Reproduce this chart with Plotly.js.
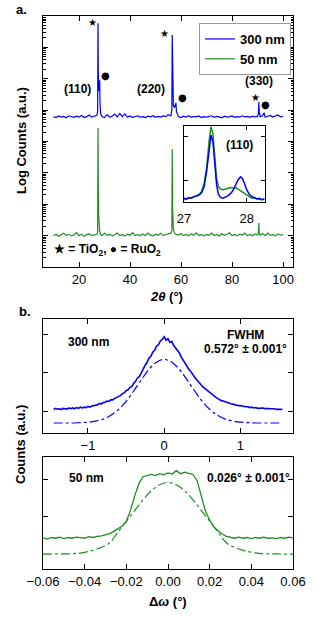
<!DOCTYPE html>
<html><head><meta charset="utf-8">
<script src="https://cdn.plot.ly/plotly-3.0.1.min.js"></script>
<style>html,body{margin:0;padding:0;background:#fff}#chart{width:317px;height:617px}</style>
</head><body><div id="chart"></div>
<script>
// ---------- Panel a: XRD 2theta scans (counts, log scale) ----------
const twoTheta300 = [10,11,12,13,14,15,16,17,18,19,20,21,22,23,24,25,26,27,27.3,27.45,27.55,27.7,28.0,28.1,28.25,28.5,29,30,31,32,33,34,35,36,37,38,39,40,41,42,43,44,45,46,47,48,49,50,51,52,53,54,55,56,56.4,56.55,56.7,57.0,57.4,57.8,58.0,58.2,58.6,59,60,61,62,63,64,65,66,67,68,69,70,71,72,73,74,75,76,77,78,79,80,81,82,83,84,85,86,87,88,89,90,90.35,90.5,90.65,91,92,92.4,92.6,92.8,93,94,95,96,97,98,99,100];
const counts300 = [62000,58000,65000,60000,63000,57000,66000,61000,59000,64000,60000,67000,58000,62000,70000,60000,63000,68000,90000,5.9e7,2e6,4e5,6e5,9e5,1.5e5,75000,62000,58000,72000,60000,64000,75000,60000,78000,62000,76000,60000,65000,59000,63000,66000,60000,62000,58000,64000,61000,66000,59000,63000,60000,65000,62000,72000,66000,1e5,2.5e7,8e5,1.4e5,1.2e5,1.7e5,1.7e5,90000,70000,62000,58000,64000,60000,66000,59000,63000,61000,65000,58000,62000,60000,64000,66000,59000,63000,61000,57000,64000,60000,62000,65000,59000,62000,60000,66000,61000,63000,59000,64000,61000,63000,80000,1.8e5,90000,62000,66000,78000,80000,68000,60000,64000,68000,60000,63000,70000,61000,64000];
const twoTheta50 = [10,11,12,13,14,15,16,17,18,19,20,21,22,23,24,25,26,27,27.3,27.45,27.55,27.7,27.85,28.1,28.5,29,30,31,32,33,34,35,36,37,38,39,40,41,42,43,44,45,46,47,48,49,50,51,52,53,54,55,56,56.4,56.55,56.7,57,57.5,58,59,60,61,62,63,64,65,66,67,68,69,70,71,72,73,74,75,76,77,78,79,80,81,82,83,84,85,86,87,88,89,90,90.35,90.5,90.65,91,92,93,94,95,96,97,98,99,100];
const counts50 = [10,11,9.5,10.5,12,10,11,9.8,10.5,12.5,10,11,9.6,10.8,11.5,10,10.6,11,13,27000,600,46,28,14,11,10,12,10.2,11,9.8,10.6,12,10,10.8,9.7,11.2,10.3,12.4,10,10.7,9.9,11.3,10.1,12,10.4,9.8,11.1,10.2,11.8,10,10.9,11.5,12,14,5800,70,16,12,11,10.4,11.6,10,10.9,9.8,11.4,10.2,12.2,10,10.8,9.9,11,10.3,12,10.1,10.9,9.8,11.5,10.2,11,12.3,10,10.7,9.9,11.2,10.4,12,10,10.9,9.8,11.3,10.5,12,25,12,10.4,11.6,10,12.1,10.2,10.9,9.9,11.4,10.3,11];

// ---------- Inset: (110) peak, normalised ----------
const insetTwoTheta = [27.00,27.04,27.08,27.12,27.16,27.20,27.24,27.28,27.32,27.36,27.40,27.43,27.46,27.49,27.52,27.55,27.58,27.62,27.66,27.70,27.74,27.78,27.82,27.86,27.90,27.93,27.96,28.00,28.04,28.08,28.12,28.16,28.20,28.24,28.28];
const inset300 = [0.05,0.04,0.06,0.05,0.07,0.08,0.09,0.12,0.20,0.40,0.72,0.88,0.80,0.50,0.22,0.10,0.06,0.05,0.06,0.08,0.11,0.15,0.22,0.29,0.33,0.31,0.25,0.16,0.10,0.07,0.06,0.04,0.05,0.03,0.04];
const inset50 = [0.03,0.04,0.04,0.05,0.06,0.08,0.10,0.14,0.24,0.45,0.80,0.99,0.90,0.58,0.30,0.20,0.17,0.16,0.17,0.18,0.19,0.18,0.19,0.17,0.15,0.13,0.11,0.09,0.07,0.05,0.05,0.04,0.04,0.03,0.04];

// ---------- Panel b: rocking curves ----------
const omega300 = [-1.450,-1.425,-1.400,-1.375,-1.350,-1.325,-1.300,-1.275,-1.250,-1.225,-1.200,-1.175,-1.150,-1.125,-1.100,-1.075,-1.050,-1.025,-1.000,-0.975,-0.950,-0.925,-0.900,-0.875,-0.850,-0.825,-0.800,-0.775,-0.750,-0.725,-0.700,-0.675,-0.650,-0.625,-0.600,-0.575,-0.550,-0.525,-0.500,-0.475,-0.450,-0.425,-0.400,-0.375,-0.350,-0.325,-0.300,-0.275,-0.250,-0.225,-0.200,-0.175,-0.150,-0.125,-0.100,-0.075,-0.050,-0.025,0.000,0.025,0.050,0.075,0.100,0.125,0.150,0.175,0.200,0.225,0.250,0.275,0.300,0.325,0.350,0.375,0.400,0.425,0.450,0.475,0.500,0.525,0.550,0.575,0.600,0.625,0.650,0.675,0.700,0.725,0.750,0.775,0.800,0.825,0.850,0.875,0.900,0.925,0.950,0.975,1.000,1.025,1.050,1.075,1.100,1.125,1.150,1.175,1.200,1.225,1.250,1.275,1.300,1.325,1.350,1.375,1.400,1.425,1.450,1.475,1.500,1.525,1.550];
const rc300 = [1.04,1.07,1.05,1.06,1.04,1.07,1.06,1.05,1.08,1.06,1.08,1.06,1.09,1.07,1.10,1.08,1.10,1.09,1.12,1.10,1.13,1.14,1.15,1.16,1.20,1.18,1.22,1.23,1.26,1.25,1.29,1.29,1.33,1.35,1.38,1.40,1.45,1.47,1.53,1.55,1.61,1.64,1.72,1.77,1.86,1.90,1.99,2.10,2.19,2.26,2.37,2.42,2.53,2.58,2.69,2.72,2.82,2.86,2.93,2.84,2.88,2.78,2.81,2.70,2.63,2.58,2.51,2.40,2.31,2.25,2.17,2.08,2.02,1.94,1.88,1.82,1.77,1.70,1.64,1.60,1.55,1.50,1.46,1.42,1.38,1.36,1.33,1.29,1.27,1.26,1.24,1.21,1.20,1.19,1.18,1.16,1.16,1.14,1.14,1.12,1.12,1.11,1.11,1.09,1.10,1.08,1.09,1.07,1.08,1.07,1.08,1.06,1.07,1.06,1.06,1.05,1.06,1.04,1.05,1.04,1.05];
const omegaFit300 = [-1.45,-1.4,-1.3,-1.2,-1.1,-1.0,-0.9,-0.8,-0.7,-0.6,-0.5,-0.4,-0.3,-0.2,-0.1,0.0,0.1,0.2,0.3,0.4,0.5,0.6,0.7,0.8,0.9,1.0,1.1,1.2,1.3,1.4,1.5,1.55];
const fit300 = [0.69,0.69,0.69,0.69,0.70,0.71,0.74,0.79,0.89,1.04,1.25,1.52,1.81,2.08,2.27,2.34,2.27,2.08,1.81,1.52,1.25,1.04,0.89,0.79,0.74,0.71,0.70,0.69,0.69,0.69,0.69,0.69];

const omega50 = [-0.060,-0.058,-0.056,-0.054,-0.052,-0.050,-0.048,-0.046,-0.044,-0.042,-0.040,-0.038,-0.036,-0.034,-0.032,-0.030,-0.028,-0.026,-0.024,-0.022,-0.020,-0.018,-0.016,-0.014,-0.012,-0.010,-0.008,-0.006,-0.004,-0.002,0.000,0.002,0.004,0.006,0.008,0.010,0.012,0.014,0.016,0.018,0.020,0.022,0.024,0.026,0.028,0.030,0.032,0.034,0.036,0.038,0.040,0.042,0.044,0.046,0.048,0.050,0.052,0.054,0.056,0.058,0.060];
const rc50 = [0.45,0.42,0.46,0.44,0.47,0.43,0.46,0.44,0.47,0.45,0.44,0.48,0.46,0.49,0.50,0.53,0.56,0.62,0.70,0.76,0.88,1.18,1.55,1.88,2.06,2.10,2.12,2.09,2.14,2.11,2.16,2.13,2.22,2.14,2.18,2.15,2.12,1.95,1.55,1.15,0.92,0.74,0.64,0.55,0.49,0.46,0.44,0.47,0.44,0.46,0.43,0.46,0.44,0.47,0.44,0.45,0.43,0.46,0.44,0.47,0.45];
const omegaFit50 = [-0.060,-0.056,-0.052,-0.048,-0.044,-0.040,-0.036,-0.032,-0.028,-0.024,-0.020,-0.016,-0.012,-0.008,-0.004,0.000,0.004,0.008,0.012,0.016,0.020,0.024,0.028,0.032,0.036,0.040,0.044,0.048,0.052,0.056,0.060];
const fit50 = [0.02,0.02,0.03,0.03,0.04,0.07,0.12,0.20,0.32,0.60,0.89,1.17,1.45,1.69,1.85,1.91,1.85,1.69,1.45,1.17,0.89,0.60,0.32,0.20,0.12,0.07,0.04,0.03,0.03,0.02,0.02];

const seriesNames = ['300 nm','50 nm'];
const tickValsA = [20,40,60,80,100];
const tickValsInset = [27,28];
const tickValsB1 = [-1,0,1];
const tickValsB2 = [-0.06,-0.04,-0.02,0,0.02,0.04,0.06];
const tickTextB2 = ['\u22120.06','\u22120.04','\u22120.02','0.00','0.02','0.04','0.06'];
const tickTextB1 = ['\u22121','0','1'];

// ---------- styling / layout ----------
const W = 317, H = 617;
const px = x => x / W, py = y => 1 - y / H;
const F = 'Liberation Sans, Arial, Helvetica, sans-serif';
const BLUE = '#0000ff', GREEN = '#1f8c1f';

const ax = (extra) => Object.assign({
  showline: true, linecolor: '#000', linewidth: 1.2, mirror: 'ticks',
  ticks: 'inside', ticklen: 5, tickwidth: 1, tickcolor: '#000',
  showgrid: false, zeroline: false,
  tickfont: {family: F, size: 13, color: '#000'}
}, extra);

const traces = [
  {x: twoTheta300, y: counts300, type: 'scatter', mode: 'lines', name: '<b>' + seriesNames[0] + '</b>',
   line: {color: BLUE, width: 1.2}, xaxis: 'x', yaxis: 'y'},
  {x: twoTheta50, y: counts50, type: 'scatter', mode: 'lines', name: '<b>' + seriesNames[1] + '</b>',
   line: {color: GREEN, width: 1.2}, xaxis: 'x', yaxis: 'y'},
  {x: insetTwoTheta, y: inset50, type: 'scatter', mode: 'lines', showlegend: false,
   line: {color: GREEN, width: 1.5}, xaxis: 'x2', yaxis: 'y2'},
  {x: insetTwoTheta, y: inset300, type: 'scatter', mode: 'lines', showlegend: false,
   line: {color: BLUE, width: 1.5}, xaxis: 'x2', yaxis: 'y2'},
  {x: omega300, y: rc300, type: 'scatter', mode: 'lines', showlegend: false,
   line: {color: BLUE, width: 1.6}, xaxis: 'x3', yaxis: 'y3'},
  {x: omegaFit300, y: fit300, type: 'scatter', mode: 'lines', showlegend: false,
   line: {color: BLUE, width: 1.2, dash: 'dashdot', shape: 'spline'}, xaxis: 'x3', yaxis: 'y3'},
  {x: omega50, y: rc50, type: 'scatter', mode: 'lines', showlegend: false,
   line: {color: GREEN, width: 1.3}, xaxis: 'x4', yaxis: 'y4'},
  {x: omegaFit50, y: fit50, type: 'scatter', mode: 'lines', showlegend: false,
   line: {color: GREEN, width: 1.2, dash: 'dashdot', shape: 'spline'}, xaxis: 'x4', yaxis: 'y4'}
];

const ann = (x, y, text, size, extra) => Object.assign({
  xref: 'paper', yref: 'paper', x: px(x), y: py(y), text: text, showarrow: false,
  xanchor: 'center', yanchor: 'middle', font: {family: F, size: size, color: '#000'}
}, extra || {});
const SYM = 'DejaVu Sans, sans-serif';

const layout = {
  width: W, height: H,
  margin: {l: 0, r: 0, t: 0, b: 0},
  paper_bgcolor: '#fff', plot_bgcolor: '#fff',
  showlegend: true,
  legend: {x: px(291), xanchor: 'right', y: py(23), yanchor: 'top',
           bgcolor: '#fff', bordercolor: '#999', borderwidth: 1,
           font: {family: F, size: 13, color: '#000'}, tracegroupgap: 0},
  xaxis: ax({domain: [px(43), px(293)], anchor: 'y', range: [5.88, 103.9], tickvals: tickValsA}),
  yaxis: ax({domain: [py(267), py(16)], anchor: 'x', type: 'log', range: [0, 8], dtick: 1,
             showticklabels: false,
             minor: {ticks: 'inside', ticklen: 2.5, tickcolor: '#000', tickwidth: 1, showgrid: false}}),
  xaxis2: ax({domain: [px(184), px(265)], anchor: 'y2', range: [27, 28.29], tickvals: tickValsInset,
              ticklen: 4, ticklabelstandoff: 4}),
  yaxis2: ax({domain: [py(202), py(126)], anchor: 'x2', range: [0, 1], tickvals: [0.289, 0.868],
              showticklabels: false, ticklen: 4}),
  xaxis3: ax({domain: [px(43), px(293)], anchor: 'y3', range: [-1.59, 1.69], tickvals: tickValsB1, ticktext: tickTextB1}),
  yaxis3: ax({domain: [py(433), py(319)], anchor: 'x3', range: [0.43, 3.39], tickvals: [1, 2, 3], showticklabels: false}),
  xaxis4: ax({domain: [px(43), px(293)], anchor: 'y4', range: [-0.06, 0.06], tickvals: tickValsB2, ticktext: tickTextB2}),
  yaxis4: ax({domain: [py(569), py(457)], anchor: 'x4', range: [-0.37, 2.58], tickvals: [1, 2], showticklabels: false}),
  annotations: [
    ann(21, 9, '<b>a.</b>', 13),
    ann(25, 312, '<b>b.</b>', 13),
    ann(21, 141, '<b>Log Counts (a.u.)</b>', 13, {textangle: -90}),
    ann(21, 445, '<b>Counts (a.u.)</b>', 13, {textangle: -90}),
    ann(166, 296, '<b><i>2θ</i> (°)</b>', 13),
    ann(168, 601, '<b>Δ<i>ω</i> (°)</b>', 13),
    ann(77, 89, '<b>(110)</b>', 12),
    ann(151, 89, '<b>(220)</b>', 12),
    ann(259, 81, '<b>(330)</b>', 12),
    ann(239, 145, '<b>(110)</b>', 12),
    ann(92, 23, '★', 10, {font: {family: SYM, size: 10, color: '#000'}}),
    ann(164, 33, '★', 10, {font: {family: SYM, size: 10, color: '#000'}}),
    ann(255, 97, '★', 10, {font: {family: SYM, size: 10, color: '#000'}}),
    ann(106, 75, '●', 10, {font: {family: SYM, size: 10, color: '#000'}}),
    ann(182, 97, '●', 10, {font: {family: SYM, size: 10, color: '#000'}}),
    ann(265, 104, '●', 10, {font: {family: SYM, size: 10, color: '#000'}}),
    ann(107, 250, '<b>★ = TiO<sub>2</sub>, ● = RuO<sub>2</sub></b>', 12),
    ann(89, 342, '<b>300 nm</b>', 12),
    ann(246, 335, '<b>FWHM</b>', 12),
    ann(246, 349, '<b>0.572° ± 0.001°</b>', 12),
    ann(86, 478, '<b>50 nm</b>', 12),
    ann(248, 478, '<b>0.026° ± 0.001°</b>', 12)
  ]
};

Plotly.newPlot('chart', traces, layout, {staticPlot: true, displayModeBar: false});
</script>
</body></html>
